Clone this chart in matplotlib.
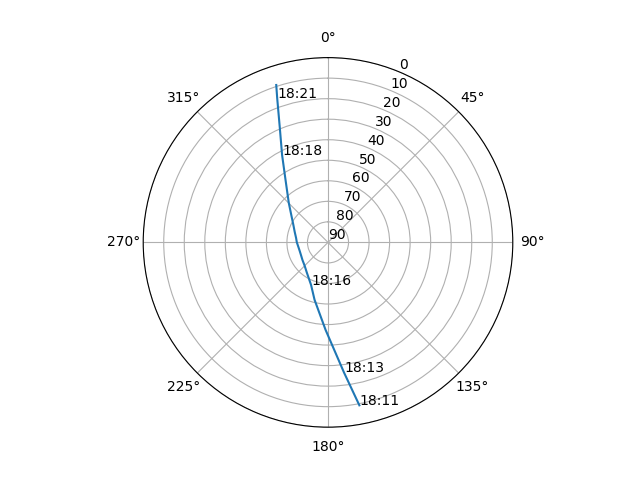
import numpy as np
import matplotlib
matplotlib.use('Agg')
import matplotlib.pyplot as plt

# Satellite pass track (azimuth deg, elevation deg)
times = ['18:11:00', '18:13:30', '18:15:00', '18:15:30', '18:16:00', '18:16:10',
         '18:16:15', '18:16:20', '18:16:25', '18:16:30', '18:16:35', '18:16:40',
         '18:16:45', '18:16:50', '18:16:55', '18:17:05', '18:17:20', '18:17:50',
         '18:18:30', '18:19:45', '18:21:00', '18:21:40']
azimuth = [169.1, 173.0, 181.6, 193.2, 201.7, 215.3,
           224.9, 235.5, 243.3, 253.3, 261.4, 270.4,
           278.0, 287.5, 296.8, 307.6, 315.2, 325.8,
           332.3, 337.3, 340.6, 341.8]
elevation = [9.2, 26.2, 47.4, 61.3, 67.7, 72.1,
             73.9, 74.9, 75.4, 75.6, 75.4, 74.8,
             74.3, 73.0, 71.1, 67.3, 62.9, 53.2,
             41.9, 29.1, 15.5, 9.3]
labeled = ['18:11:00', '18:13:30', '18:16:00', '18:18:30', '18:21:00']

fig = plt.figure(figsize=(6.4, 4.8), dpi=100)
ax = fig.add_subplot(111, projection='polar')
ax.set_theta_zero_location('N')
ax.set_theta_direction(-1)

theta = np.radians(azimuth)
ax.plot(theta, elevation)

for t, th, el in zip(times, theta, elevation):
    if t in labeled:
        ax.text(th, el, t[:5])

ax.set_rlim(90, 0)
ax.set_yticks(range(0, 91, 10))

plt.savefig('out.png', dpi=100)
